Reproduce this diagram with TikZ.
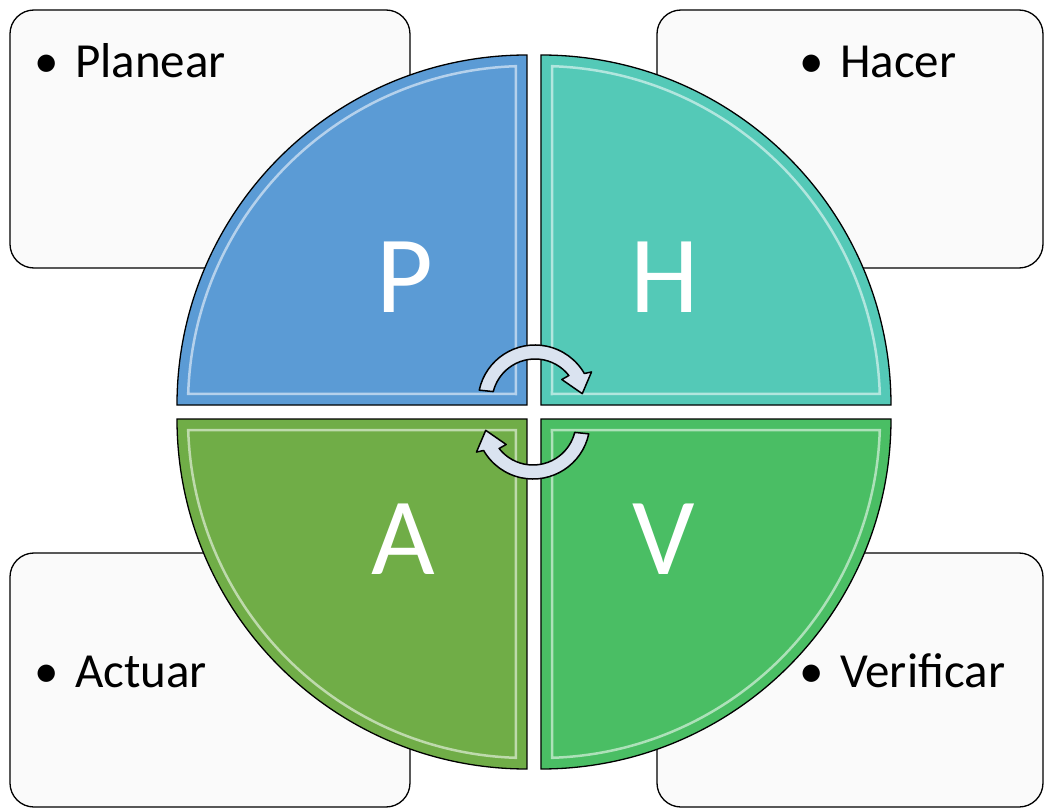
\documentclass[tikz,border=0pt]{standalone}
\usepackage{fontspec}
\setmainfont{Carlito}

\definecolor{boxgray}{HTML}{FAFAFA}
\definecolor{planblue}{HTML}{5B9BD5}
\definecolor{hacerteal}{HTML}{54C9B7}
\definecolor{verifgreen}{HTML}{4ABE64}
\definecolor{actgreen}{HTML}{70AD47}
\definecolor{arrowfill}{HTML}{DAE3F0}

\begin{document}
\begin{tikzpicture}[
  x=1pt, y=1pt,
  info_box/.style={draw=black, line width=1.3pt, rounded corners=24pt, fill=boxgray, inner sep=0pt},
  item_text/.style={inner sep=0pt, anchor=base west, font=\fontsize{49}{58}\selectfont},
  quad_part/.style={draw=black, line width=1.3pt},
  bevel_line/.style={draw=white, line width=2.5pt, opacity=0.55},
  big_letter/.style={inner sep=0pt, text=white, font=\fontsize{110}{120}\selectfont},
  cycle_arrow/.style={draw=black, line width=1.5pt, fill=arrowfill, line join=round},
]
\useasboundingbox (-534,-397) rectangle (511,412);

% boxes behind the circle
\draw (-324,273) node (plan_box) [info_box, minimum width=400pt, minimum height=258pt] {};
\draw (316,273) node (hacer_box) [info_box, minimum width=386pt, minimum height=258pt] {};
\draw (-324,-268) node (act_box) [info_box, minimum width=400pt, minimum height=254pt] {};
\draw (316,-268) node (verif_box) [info_box, minimum width=386pt, minimum height=254pt] {};

\draw (-459,334) node (plan_item) [item_text] {\llap{\textbullet\hspace{16pt}}Planear};
\draw (306,334) node (hacer_item) [item_text] {\llap{\textbullet\hspace{16pt}}Hacer};
\draw (-459,-275) node (act_item) [item_text] {\llap{\textbullet\hspace{16pt}}Actuar};
\draw (306,-275) node (verif_item) [item_text] {\llap{\textbullet\hspace{16pt}}Verificar};

% the four quarters
\foreach \ang/\col in {0/planblue, -90/hacerteal, -180/verifgreen, -270/actgreen} {
  \begin{scope}[rotate=\ang]
    \draw[quad_part, fill=\col] (-7,7) -- (-357,7) arc[start angle=180, end angle=90, radius=350] -- cycle;
    \draw[bevel_line] (-7,7) ++(178.1:339) arc[start angle=178.1, end angle=91.9, radius=339] -- (-18,18) -- cycle;
  \end{scope}
}

\draw (-129,135) node (p_letter) [big_letter] {P};
\draw (131,135) node (h_letter) [big_letter] {H};
\draw (-131,-127) node (a_letter) [big_letter] {A};
\draw (130,-127) node (v_letter) [big_letter] {V};

% turning arrows in the middle
\begin{scope}[shift={(1,10)}]
  \draw[cycle_arrow] (168:57) arc[start angle=168, end angle=30, radius=57] -- (28:64) -- (10:48) -- (40:35) -- (38:43) arc[start angle=38, end angle=166, radius=43] -- cycle;
\end{scope}
\begin{scope}[rotate=180, shift={(1,10)}]
  \draw[cycle_arrow] (168:57) arc[start angle=168, end angle=30, radius=57] -- (28:64) -- (10:48) -- (40:35) -- (38:43) arc[start angle=38, end angle=166, radius=43] -- cycle;
\end{scope}
\end{tikzpicture}
\end{document}
